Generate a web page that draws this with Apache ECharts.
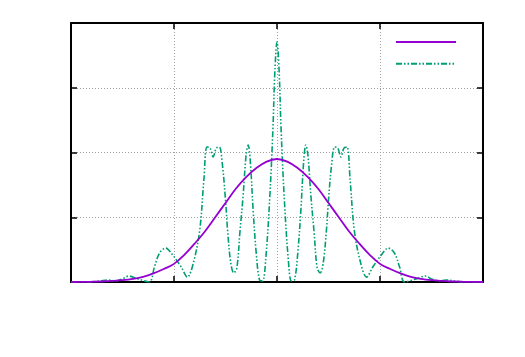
<!DOCTYPE html>
<html>
<head>
<meta charset="utf-8">
<script src="https://cdn.jsdelivr.net/npm/echarts@6/dist/echarts.min.js"></script>
<style>html,body{margin:0;padding:0;background:#fff}#c{width:525px;height:357px}</style>
</head>
<body>
<div id="c"></div>
<script>
// Axis settings
var xMin = -2, xMax = 2, xStep = 1;
var yMin = 0, yMax = 1, yStep = 0.25;

// Series 1 (smooth envelope, solid violet)
var envX = [-2.0,-1.9,-1.8,-1.7,-1.6,-1.5,-1.4,-1.3,-1.2,-1.1,-1.0,-0.9,-0.8,-0.7,-0.6,-0.5,-0.4,-0.3,-0.2,-0.1,0,
            0.1,0.2,0.3,0.4,0.5,0.6,0.7,0.8,0.9,1.0,1.1,1.2,1.3,1.4,1.5,1.6,1.7,1.8,1.9,2.0];
var envY = [0.000,0.0005,0.001,0.002,0.004,0.007,0.012,0.02,0.033,0.05,0.07,0.105,0.148,0.195,0.25,0.305,0.36,0.405,0.44,0.465,0.475,
            0.465,0.44,0.405,0.36,0.305,0.25,0.195,0.148,0.105,0.07,0.05,0.033,0.02,0.012,0.007,0.004,0.002,0.001,0.0005,0.000];

// Series 2 (interference pattern, green dash-dot-dot)
var patX = [-2.00,-1.82,-1.72,-1.64,-1.57,-1.50,-1.44,-1.35,-1.24,-1.19,-1.14,-1.08,-1.02,-0.93,-0.87,-0.81,-0.75,-0.71,-0.68,-0.65,
            -0.62,-0.59,-0.56,-0.53,-0.50,-0.48,-0.45,-0.42,-0.39,-0.36,-0.33,-0.30,-0.28,-0.26,-0.23,-0.20,-0.17,-0.14,-0.11,-0.07,
            -0.04,-0.02,0,0.02,0.04,0.07,0.11,0.14,0.17,0.20,0.23,0.26,0.28,0.30,0.33,0.36,0.39,0.42,0.45,0.48,
            0.50,0.53,0.56,0.59,0.62,0.65,0.68,0.71,0.75,0.81,0.87,0.93,1.02,1.08,1.14,1.19,1.24,1.35,1.44,1.50,
            1.57,1.64,1.72,1.82,2.00];
var patY = [0,0,0.004,0.008,0.004,0.012,0.023,0.012,0,0.058,0.112,0.131,0.108,0.058,0.019,0.077,0.201,0.394,0.521,0.517,
            0.483,0.517,0.521,0.452,0.317,0.201,0.077,0.035,0.054,0.193,0.328,0.490,0.529,0.471,0.266,0.104,0.008,0.004,0.085,0.328,
            0.587,0.819,0.927,0.819,0.587,0.328,0.085,0.004,0.008,0.104,0.266,0.471,0.529,0.490,0.328,0.193,0.054,0.035,0.077,0.201,
            0.317,0.452,0.521,0.517,0.483,0.517,0.521,0.394,0.201,0.077,0.019,0.058,0.108,0.131,0.112,0.058,0,0.012,0.023,0.012,
            0.004,0.008,0.004,0,0];

function pairs(xs, ys){ return xs.map(function(x,i){ return [x, ys[i]]; }); }

var chart = echarts.init(document.getElementById('c'), null, {renderer:'canvas'});
var gridLine = {show:true, lineStyle:{color:'#a0a0a0', type:[1,2], width:1}};
var frame = {show:true, onZero:false, lineStyle:{color:'#000', width:2}};
var tick = {show:true, inside:true, length:6, lineStyle:{color:'#000', width:1.5}};
chart.setOption({
  animation:false,
  backgroundColor:'#fff',
  grid:{left:71, right:42, top:23, bottom:75, containLabel:false},
  legend:{
    orient:'vertical', right:63, top:31, itemWidth:60, itemHeight:12, itemGap:11,
    formatter:function(){ return ''; },
    itemStyle:{opacity:0},
    data:['a','b'], selectedMode:false
  },
  xAxis:[
    {type:'value', min:xMin, max:xMax, interval:xStep, position:'bottom',
     axisLine:frame, axisTick:tick, axisLabel:{show:false}, splitLine:gridLine},
    {type:'value', min:xMin, max:xMax, interval:xStep, position:'top',
     axisLine:frame, axisTick:tick, axisLabel:{show:false}, splitLine:{show:false}}
  ],
  yAxis:[
    {type:'value', min:yMin, max:yMax, interval:yStep, position:'left',
     axisLine:frame, axisTick:tick, axisLabel:{show:false}, splitLine:gridLine},
    {type:'value', min:yMin, max:yMax, interval:yStep, position:'right',
     axisLine:frame, axisTick:tick, axisLabel:{show:false}, splitLine:{show:false}}
  ],
  series:[
    {name:'a', type:'line', data:pairs(envX, envY), smooth:0.4, symbol:'none',
     lineStyle:{color:'#9400d3', width:1.8}, itemStyle:{color:'#9400d3'}, z:3},
    {name:'b', type:'line', data:pairs(patX, patY), smooth:0.35, symbol:'none',
     lineStyle:{color:'#009e73', width:1.6, type:[6,2,1.5,2,1.5,2]}, itemStyle:{color:'#009e73'}, z:2}
  ]
});
</script>
</body>
</html>
